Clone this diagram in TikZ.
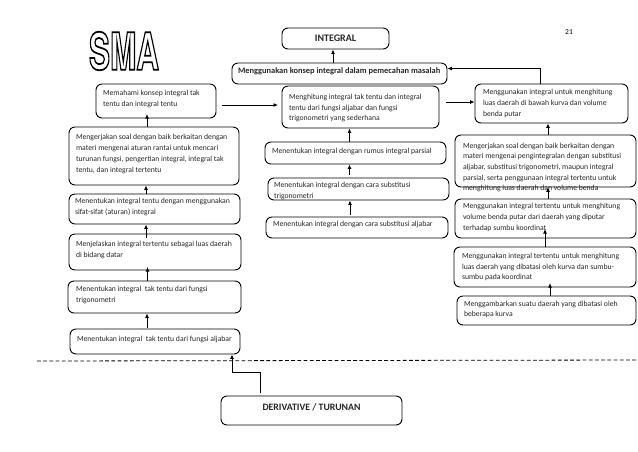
\documentclass[tikz,border=0pt]{standalone}
\usepackage{fontspec}
\setmainfont{Carlito}
\newfontfamily\smafont{TeX Gyre Heros}
\usetikzlibrary{arrows.meta}
\tikzset{
  flow/.style={draw=black,line width=0.9pt,rounded corners=6pt,inner sep=0pt,font=\fontsize{7.7}{10.7}\selectfont,text=black!85},
  link/.style={draw=black,line width=0.9pt,-{Latex[length=4.5pt,width=4pt]}},
  cut/.style={draw=black,line width=0.8pt,dash pattern=on 3.8pt off 2.4pt}
}
% name, x1, y1, x2, y2, left pad, lift, text
\newcommand{\flowbox}[8]{%
  \pgfmathsetmacro{\fbw}{#4-#2}\pgfmathsetmacro{\fbh}{#5-#3}\pgfmathsetmacro{\fbt}{#4-#2-2*#6}%
  \node[flow,minimum width=\fbw pt,minimum height=\fbh pt] (#1) at ({(#2+#4)/2},{(#3+#5)/2})
    {\raisebox{#7pt}[0pt][0pt]{\parbox[c]{\fbt pt}{\raggedright\hyphenpenalty=10000 #8}}};}
\begin{document}
\begin{tikzpicture}[x=1pt,y=-1pt]
\useasboundingbox (0,0) rectangle (638,451);
\node[inner sep=0pt] (sma) at (124,51) {\smafont\bfseries\special{pdf:code 1 Tr 0.35 w}\resizebox{70pt}{38pt}{SMA}\special{pdf:code 0 Tr}};
\node[inner sep=0pt,font=\fontsize{7.5}{9}\selectfont] (page) at (569,32) {21};

% centre column
\flowbox{integral}{282}{28}{389}{49}{0}{-2}{\centering\fontsize{10}{11}\selectfont\bfseries INTEGRAL}
\flowbox{konsep}{232}{63}{447}{84}{6}{0}{\fontsize{8.4}{10}\selectfont\bfseries Menggunakan konsep integral dalam pemecahan masalah}
\flowbox{hitung}{282}{86}{439}{128}{7}{-3}{Menghitung integral tak tentu dan integral\\tentu dari fungsi aljabar dan fungsi\\trigonometri yang sederhana}
\flowbox{parsial}{265}{142}{446}{164}{7}{0}{Menentukan integral dengan rumus integral parsial}
\flowbox{subtrig}{268}{178}{449}{200}{6}{-4}{Menentukan integral dengan cara substitusi\\trigonometri}
\flowbox{subalj}{266}{217}{448}{238}{7}{1}{Menentukan integral dengan cara substitusi aljabar}

% right column
\flowbox{gunaluas}{475}{84}{628}{123}{8}{-2}{Menggunakan integral untuk menghitung\\luas daerah di bawah kurva dan volume\\benda putar}
\flowbox{kerjakanr}{455}{135}{636}{187}{8}{-8.5}{Mengerjakan soal dengan baik berkaitan dengan\\materi mengenai pengintegralan dengan substitusi\\aljabar, substitusi trigonometri, maupun integral\\parsial, serta penggunaan integral tertentu untuk\\menghitung luas daerah dan volume benda}
\flowbox{volume}{455}{199}{636}{238}{8}{-1}{Menggunakan integral tertentu untuk menghitung\\volume benda putar dari daerah yang diputar\\terhadap sumbu koordinat}
\flowbox{luaskurva}{454}{247}{636}{287}{8}{-2}{Menggunakan integral tertentu untuk menghitung\\luas daerah yang dibatasi oleh kurva dan sumbu-\\sumbu pada koordinat}
\flowbox{gambar}{457}{296}{636}{325}{7}{-1}{Menggambarkan suatu daerah yang dibatasi oleh\\beberapa kurva}

% left column
\flowbox{paham}{96}{84}{216}{118}{7}{0}{Memahami konsep integral tak\\tentu dan integral tentu}
\flowbox{kerjakanl}{69}{127}{239}{185}{7}{0}{Mengerjakan soal dengan baik berkaitan dengan\\materi mengenai aturan rantai untuk mencari\\turunan fungsi, pengertian integral, integral tak\\tentu, dan integral tertentu}
\flowbox{sifat}{69}{194}{240}{224}{6}{0}{Menentukan integral tentu dengan menggunakan\\sifat-sifat (aturan) integral}
\flowbox{jelas}{69}{234}{241}{270}{7}{0}{Menjelaskan integral tertentu sebagai luas daerah\\di bidang datar}
\flowbox{taktrig}{68}{281}{241}{313}{8}{0}{Menentukan integral\ \ tak tentu dari fungsi\\trigonometri}
\flowbox{takalj}{70}{329}{240}{354}{7}{0}{Menentukan integral\ \ tak tentu dari fungsi aljabar}

\flowbox{turunan}{221}{396}{402}{425}{0}{1}{\centering\fontsize{9.8}{11}\selectfont\bfseries DERIVATIVE / TURUNAN}

% dashed divider
\coordinate (cutl) at (37,361);
\coordinate (cutr) at (636,360);
\draw[cut] (cutl) -- (cutr);

% connectors
\coordinate (tA) at (333,63);
\draw[link] (konsep.north -| tA) -- (integral.south -| tA);
\coordinate (tB) at (349.5,0);
\draw[link] (parsial.north -| tB) -- (hitung.south -| tB);
\draw[link] (subtrig.north -| tB) ++(0,-3) -- (parsial.south -| tB);
\coordinate (tC) at (350,0);
\draw[link] ([yshift=2pt]subalj.north -| tC) -- (subtrig.south -| tC);

\coordinate (tD) at (548,0);
\draw[link] (kerjakanr.north -| tD) -- (gunaluas.south -| tD);
\draw[link] (volume.north -| tD) -- (kerjakanr.south -| tD);
\coordinate (tE) at (545,229);
\draw[link] (luaskurva.north -| tE) -- (tE);
\coordinate (tF) at (550,283);
\draw[link] (gambar.north -| tF) -- (tF);

\coordinate (tG) at (147,114);
\draw[link] (kerjakanl.north -| tG) -- (tG);
\coordinate (tH) at (146,0);
\draw[link] (sifat.north -| tH) -- (kerjakanl.south -| tH);
\coordinate (tI) at (146,238);
\draw[link] (tI) -- (sifat.south -| tI);
\coordinate (tJ) at (147.5,267);
\draw[link] (taktrig.north -| tJ) -- (tJ);
\coordinate (tK) at (147,0);
\draw[link] (takalj.north -| tK) ++(0,-1) -- (taktrig.south -| tK);

\coordinate (hA) at (222,105);
\coordinate (hB) at (278,105);
\draw[link] (hA) -- (hB);
\coordinate (hC) at (446,102);
\draw[link] (hC) -- (gunaluas.west |- hC);
\coordinate (hD) at (540,0);
\coordinate (hE) at (0,68.5);
\draw[link] (gunaluas.north -| hD) |- (konsep.east |- hE);

\coordinate (dA) at (260,393);
\coordinate (dB) at (232,372);
\draw[link] (dA) |- (dB) -- (takalj.south -| dB);
\end{tikzpicture}
\end{document}
